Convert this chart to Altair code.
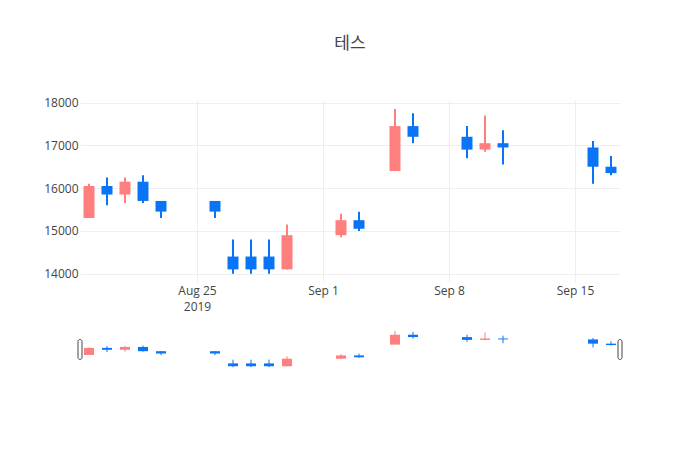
import altair as alt
import pandas as pd

dates = ["2019-08-19", "2019-08-20", "2019-08-21", "2019-08-22", "2019-08-23",
         "2019-08-26", "2019-08-27", "2019-08-28", "2019-08-29", "2019-08-30",
         "2019-09-02", "2019-09-03", "2019-09-05", "2019-09-06",
         "2019-09-09", "2019-09-10", "2019-09-11", "2019-09-16", "2019-09-17"]
opens = [15300, 16050, 15850, 16150, 15700, 15700, 14400, 14400, 14400, 14100,
         14900, 15250, 16400, 17450, 17200, 16900, 17050, 16950, 16500]
highs = [16100, 16250, 16250, 16300, 15700, 15700, 14800, 14800, 14800, 15150,
         15400, 15450, 17850, 17750, 17450, 17700, 17350, 17100, 16750]
lows = [15300, 15600, 15650, 15650, 15300, 15300, 14000, 14000, 14000, 14100,
        14850, 15000, 16400, 17050, 16700, 16850, 16550, 16100, 16300]
closes = [16050, 15850, 16150, 15700, 15450, 15450, 14100, 14100, 14100, 14900,
          15250, 15050, 17450, 17200, 16900, 17050, 16950, 16500, 16350]

y_ticks = [14000, 15000, 16000, 17000, 18000]
range_ends = ["2019-08-18T12:00:00", "2019-09-17T12:00:00"]

RED = "#ff7f7f"
BLUE = "#0a74f7"
FONT = "Open Sans, Noto Sans CJK KR, sans-serif"

df = pd.DataFrame({
    "date": [d + "T00:00:00" for d in dates],
    "open": opens, "high": highs, "low": lows, "close": closes,
})
df["dir"] = ["up" if c >= o else "down" for o, c in zip(opens, closes)]

xdom = [alt.DateTime(year=2019, month=8, date=18, hours=12),
        alt.DateTime(year=2019, month=9, date=17, hours=12)]
xticks = [alt.DateTime(year=2019, month=8, date=25),
          alt.DateTime(year=2019, month=9, date=1),
          alt.DateTime(year=2019, month=9, date=8),
          alt.DateTime(year=2019, month=9, date=15)]
ydom = [13805, 18060]

xscale = alt.Scale(domain=xdom, padding=0)
color = alt.Color("dir:N", scale=alt.Scale(domain=["up", "down"], range=[RED, BLUE]), legend=None)

main_base = alt.Chart(df).encode(
    x=alt.X("date:T", scale=xscale,
            axis=alt.Axis(values=xticks, grid=True, gridColor="#eeeeee", domain=False, ticks=False,
                          labelExpr="datum.index == 0 ? [timeFormat(datum.value, '%b %-d'), timeFormat(datum.value, '%Y')] : timeFormat(datum.value, '%b %-d')",
                          labelPadding=3, labelFont=FONT, labelFontSize=12, labelColor="#444444",
                          labelLineHeight=16, labelFlush=False, labelOverlap=False,
                          minExtent=30, maxExtent=30, title=None)),
    color=color,
)

yaxis = alt.Axis(values=y_ticks, format="d", grid=True, gridColor="#eeeeee", domain=False, ticks=False,
                 labelPadding=2, labelFont=FONT, labelFontSize=12, labelColor="#444444",
                 minExtent=40, maxExtent=40, title=None)

wick = main_base.mark_rule(strokeWidth=2).encode(
    y=alt.Y("low:Q", scale=alt.Scale(domain=ydom, nice=False, zero=False), axis=yaxis),
    y2="high:Q",
)
body = main_base.mark_bar(size=11).encode(y="open:Q", y2="close:Q")

main = alt.layer(wick, body).properties(
    width=540, height=182,
    title=alt.TitleParams("테스", anchor="middle", frame="group", fontSize=17, font=FONT,
                          color="#444444", fontWeight="normal", offset=44),
)

s_base = alt.Chart(df).encode(
    x=alt.X("date:T", scale=xscale, axis=None),
    color=color,
)
s_wick = s_base.mark_rule(strokeWidth=1).encode(
    y=alt.Y("low:Q", scale=alt.Scale(domain=ydom, nice=False, zero=False), axis=None),
    y2="high:Q",
)
s_body = s_base.mark_bar(size=10).encode(y="open:Q", y2="close:Q")

hdf = pd.DataFrame({"date": range_ends})
handles = alt.Chart(hdf).mark_rect(
    fill="white", stroke="#444444", strokeWidth=1, cornerRadius=2, xOffset=-2, x2Offset=2
).encode(
    x=alt.X("date:T", scale=xscale, axis=None),
    x2="date:T",
    y=alt.value(10.5),
    y2=alt.value(30.5),
)

slider = alt.layer(s_wick, s_body, handles).properties(width=540, height=40)

chart = alt.vconcat(main, slider, spacing=47, bounds="flush").properties(
    padding={"left": 32, "top": 26, "right": 5, "bottom": 5},
    background="white",
).configure_view(strokeWidth=0)

chart.save("out.html", embed_options={"renderer": "svg", "actions": False})
